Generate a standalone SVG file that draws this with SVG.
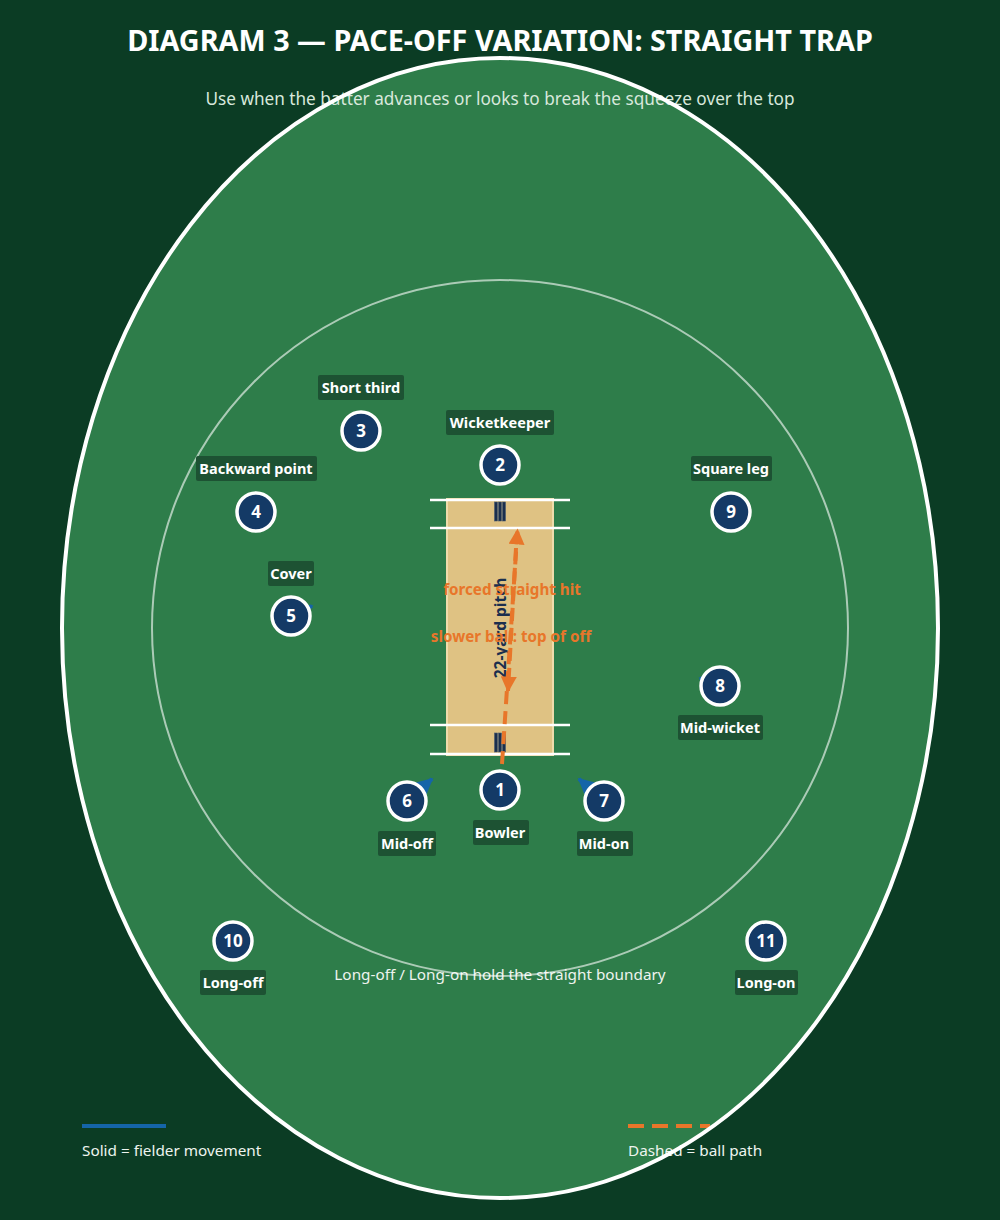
<svg xmlns="http://www.w3.org/2000/svg" width="1000" height="1220" viewBox="0 0 1000 1220">
<defs>
<style>
.title{font-family:"Noto Sans","Open Sans","Liberation Sans",sans-serif;font-weight:700;font-size:28.8px;fill:#ffffff;text-anchor:middle}
.sub{font-family:"Noto Sans","Open Sans","Liberation Sans",sans-serif;font-size:17.2px;fill:#d8e8dc;text-anchor:middle}
.note{font-family:"Noto Sans","Open Sans","Liberation Sans",sans-serif;font-size:15.3px;fill:#eef4ef}
.lbl{font-family:"Noto Sans","Open Sans","Liberation Sans",sans-serif;font-weight:700;font-size:14.5px;fill:#ffffff;text-anchor:middle}
.lblbox{fill:#1d5233}
.num{font-family:"Noto Sans","Open Sans","Liberation Sans",sans-serif;font-weight:700;font-size:17px;fill:#ffffff;text-anchor:middle}
.disc{fill:#143a66;stroke:#ffffff;stroke-width:3.5}
.crease{stroke:#ffffff;stroke-width:2.5}
.stump{fill:#1b2f4e;stroke:#4a5a70;stroke-width:0.6}
.ball{fill:none;stroke:#e8762a;stroke-width:4;stroke-dasharray:13 7}
.move{fill:none;stroke:#1565a8;stroke-width:4}
.orange{font-family:"Noto Sans","Open Sans","Liberation Sans",sans-serif;font-weight:700;font-size:15.2px;fill:#e8762a;text-anchor:middle}
</style>
<marker id="ah-o" viewBox="0 0 10 10" refX="9" refY="5" markerWidth="4" markerHeight="4" orient="auto" markerUnits="strokeWidth">
<path d="M0,0 L10,5 L0,10 z" fill="#e8762a"/>
</marker>
<marker id="ah-b" viewBox="0 0 10 10" refX="9" refY="5" markerWidth="4" markerHeight="4" orient="auto" markerUnits="strokeWidth">
<path d="M0,0 L10,5 L0,10 z" fill="#1565a8"/>
</marker>
</defs>
<rect x="0" y="0" width="1000" height="1220" fill="#0b3c24"/>
<ellipse id="field" cx="500" cy="628" rx="438" ry="570" fill="#2e7d4a"/>
<text class="title" x="500" y="51">DIAGRAM 3 — PACE-OFF VARIATION: STRAIGHT TRAP</text>
<text class="sub" x="500" y="105">Use when the batter advances or looks to break the squeeze over the top</text>
<g id="legend">
<line x1="82" y1="1126" x2="166" y2="1126" stroke="#1565a8" stroke-width="4"/>
<text class="note" x="82" y="1156">Solid = fielder movement</text>
<line x1="628" y1="1126" x2="710" y2="1126" stroke="#e8762a" stroke-width="4" stroke-dasharray="16 8"/>
<text class="note" x="628" y="1156">Dashed = ball path</text>
</g>
<text class="note" x="500" y="980" text-anchor="middle">Long-off / Long-on hold the straight boundary</text>
<ellipse id="boundary" cx="500" cy="628" rx="438" ry="570" fill="none" stroke="#ffffff" stroke-width="4"/>
<circle id="ring" cx="500" cy="628" r="348" fill="none" stroke="#ffffff" stroke-opacity="0.6" stroke-width="2"/>
<g id="pitch">
<rect x="447" y="499" width="106" height="256" fill="#dfc283" stroke="#efdcab" stroke-width="2"/>
<line class="crease" x1="430" y1="500" x2="570" y2="500"/>
<line class="crease" x1="430" y1="528" x2="570" y2="528"/>
<line class="crease" x1="430" y1="725" x2="570" y2="725"/>
<line class="crease" x1="430" y1="754" x2="570" y2="754"/>
<rect class="stump" x="494.5" y="502" width="3" height="19"/>
<rect class="stump" x="498.5" y="502" width="3" height="19"/>
<rect class="stump" x="502.5" y="502" width="3" height="19"/>
<rect class="stump" x="494.5" y="733" width="3" height="19"/>
<rect class="stump" x="498.5" y="733" width="3" height="19"/>
<rect class="stump" x="502.5" y="733" width="3" height="19"/>
<text x="506" y="628" transform="rotate(-90 506 628)" text-anchor="middle" font-family="Noto Sans, Open Sans, Liberation Sans, sans-serif" font-weight="700" font-size="15.5" fill="#1b2f4e">22-yard pitch</text>
</g>
<g id="connectors">
<line class="ball" x1="502" y1="764" x2="517.5" y2="530" marker-end="url(#ah-o)"/>
<line class="ball" x1="516" y1="548" x2="508" y2="691" marker-end="url(#ah-o)"/>
<line class="move" x1="407" y1="801" x2="432" y2="779" marker-end="url(#ah-b)"/>
<line class="move" x1="604" y1="801" x2="579" y2="779" marker-end="url(#ah-b)"/>
<line class="move" x1="291" y1="616" x2="312" y2="606" marker-end="url(#ah-b)"/>
<line class="move" x1="720" y1="686" x2="700" y2="678" marker-end="url(#ah-b)"/>
</g>
<text class="orange" x="512" y="595">forced straight hit</text>
<text class="orange" x="511" y="642">slower ball: top of off</text>
<g id="f1"><circle class="disc" cx="500" cy="790" r="19"/><text class="num" x="500" y="796">1</text><rect class="lblbox" x="473" y="820" width="56" height="25" rx="2"/><text class="lbl" x="500" y="838">Bowler</text></g>
<g id="f2"><circle class="disc" cx="500" cy="465" r="19"/><text class="num" x="500" y="471">2</text><rect class="lblbox" x="446" y="410" width="108" height="25" rx="2"/><text class="lbl" x="500" y="428">Wicketkeeper</text></g>
<g id="f3"><circle class="disc" cx="361" cy="431" r="19"/><text class="num" x="361" y="437">3</text><rect class="lblbox" x="318" y="375" width="86" height="25" rx="2"/><text class="lbl" x="361" y="393">Short third</text></g>
<g id="f4"><circle class="disc" cx="256" cy="512" r="19"/><text class="num" x="256" y="518">4</text><rect class="lblbox" x="196" y="456" width="121" height="25" rx="2"/><text class="lbl" x="256" y="474">Backward point</text></g>
<g id="f5"><circle class="disc" cx="291" cy="616" r="19"/><text class="num" x="291" y="622">5</text><rect class="lblbox" x="268" y="561" width="46" height="25" rx="2"/><text class="lbl" x="291" y="579">Cover</text></g>
<g id="f6"><circle class="disc" cx="407" cy="801" r="19"/><text class="num" x="407" y="807">6</text><rect class="lblbox" x="378" y="831" width="58" height="25" rx="2"/><text class="lbl" x="407" y="849">Mid-off</text></g>
<g id="f7"><circle class="disc" cx="604" cy="801" r="19"/><text class="num" x="604" y="807">7</text><rect class="lblbox" x="577" y="831" width="56" height="25" rx="2"/><text class="lbl" x="604" y="849">Mid-on</text></g>
<g id="f8"><circle class="disc" cx="720" cy="686" r="19"/><text class="num" x="720" y="692">8</text><rect class="lblbox" x="678" y="715" width="85" height="25" rx="2"/><text class="lbl" x="720" y="733">Mid-wicket</text></g>
<g id="f9"><circle class="disc" cx="731" cy="512" r="19"/><text class="num" x="731" y="518">9</text><rect class="lblbox" x="691" y="456" width="81" height="25" rx="2"/><text class="lbl" x="731" y="474">Square leg</text></g>
<g id="f10"><circle class="disc" cx="233" cy="941" r="19"/><text class="num" x="233" y="947">10</text><rect class="lblbox" x="200" y="970" width="66" height="25" rx="2"/><text class="lbl" x="233" y="988">Long-off</text></g>
<g id="f11"><circle class="disc" cx="766" cy="941" r="19"/><text class="num" x="766" y="947">11</text><rect class="lblbox" x="735" y="970" width="63" height="25" rx="2"/><text class="lbl" x="766" y="988">Long-on</text></g>
</svg>
